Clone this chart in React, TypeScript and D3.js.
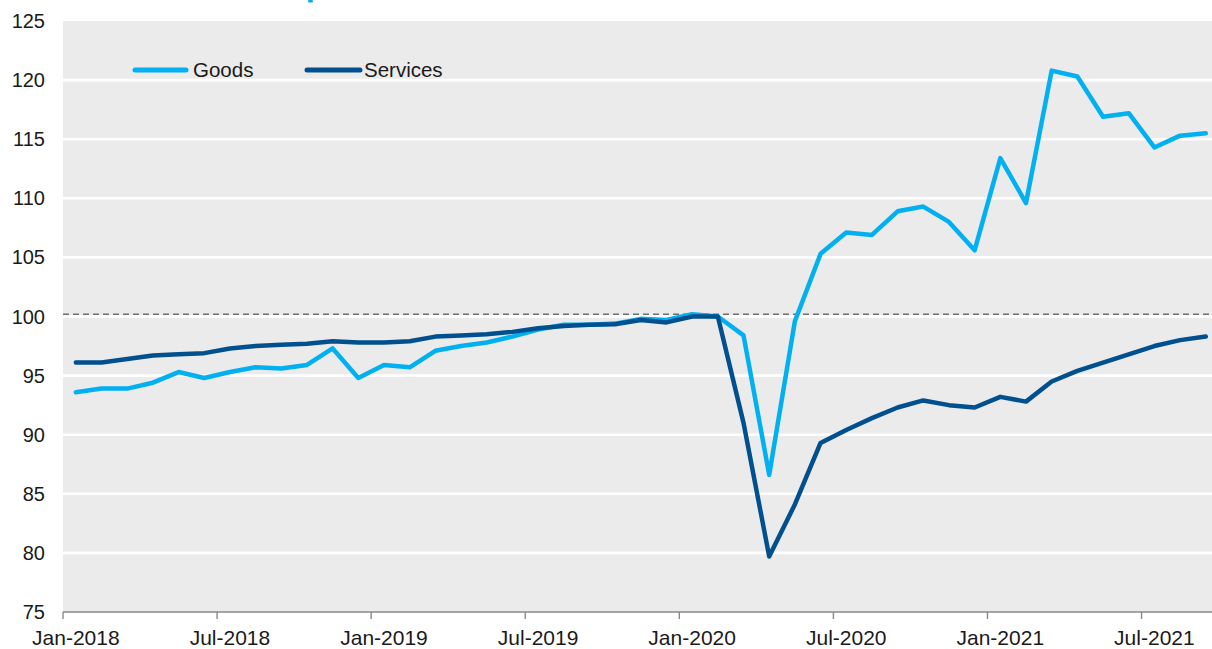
import React from "react";
import * as d3 from "d3";

const months: string[] = [];
{
  const names = ["Jan","Feb","Mar","Apr","May","Jun","Jul","Aug","Sep","Oct","Nov","Dec"];
  for (let y = 2018; y <= 2021; y++) for (let m = 0; m < 12; m++) {
    if (y === 2021 && m > 8) break;
    months.push(`${names[m]}-${y}`);
  }
}

const goods = [
  93.6, 93.9, 93.9, 94.4, 95.3, 94.8, 95.3, 95.7, 95.6, 95.9,
  97.3, 94.8, 95.9, 95.7, 97.1, 97.5, 97.8, 98.3, 98.9, 99.3,
  99.3, 99.4, 99.8, 99.7, 100.2, 100.0, 98.4, 86.6, 99.6, 105.3,
  107.1, 106.9, 108.9, 109.3, 108.0, 105.6, 113.4, 109.6, 120.8, 120.3,
  116.9, 117.2, 114.3, 115.3, 115.5,
];

const services = [
  96.1, 96.1, 96.4, 96.7, 96.8, 96.9, 97.3, 97.5, 97.6, 97.7,
  97.9, 97.8, 97.8, 97.9, 98.3, 98.4, 98.5, 98.7, 99.0, 99.2,
  99.3, 99.35, 99.7, 99.5, 100.0, 100.0, 91.0, 79.7, 84.1, 89.3,
  90.4, 91.4, 92.3, 92.9, 92.5, 92.3, 93.2, 92.8, 94.5, 95.4,
  96.1, 96.8, 97.5, 98.0, 98.3,
];

const yTicks = [75, 80, 85, 90, 95, 100, 105, 110, 115, 120, 125];
const xLabels = ["Jan-2018", "Jul-2018", "Jan-2019", "Jul-2019", "Jan-2020", "Jul-2020", "Jan-2021", "Jul-2021"];
const refLevel = 100.2;

const seriesList = [
  { name: "Goods", values: goods, color: "#00b0f0" },
  { name: "Services", values: services, color: "#00508f" },
];

export default function App() {
  const W = 1212, H = 649;
  const left = 63, top = 21, bottom = 612;
  const step = 25.68;
  const right = left + step * months.length;

  const x = d3.scaleBand<string>().domain(months).range([left, right]).paddingInner(0).paddingOuter(0);
  const y = d3.scaleLinear().domain([75, 125]).range([bottom, top]);
  const cx = (m: string) => (x(m) as number) + x.bandwidth() / 2;

  const line = d3.line<number>()
    .x((_, i) => cx(months[i]))
    .y((v) => y(v));

  const font = "'Liberation Sans', Arial, sans-serif";
  const textColor = "#1a1a1a";

  return (
    <svg width={W} height={H} style={{ position: "absolute", left: 0, top: 0, display: "block" }}>
      <rect x={0} y={0} width={W} height={H} fill="#ffffff" />
      <rect x={left} y={top} width={right - left} height={bottom - top} fill="#ebebeb" />
      {yTicks.filter((t) => t > 75 && t < 125).map((t) => (
        <line key={t} x1={left} x2={right} y1={y(t)} y2={y(t)} stroke="#ffffff" strokeWidth={2.6} />
      ))}
      <line x1={left} x2={right} y1={y(refLevel)} y2={y(refLevel)} stroke="#6f6f6f" strokeWidth={1.5} strokeDasharray="6 4" />
      {seriesList.map((s) => (
        <path key={s.name} d={line(s.values) || ""} fill="none" stroke={s.color} strokeWidth={4.5} strokeLinejoin="round" strokeLinecap="round" />
      ))}
      <line x1={left} x2={right} y1={bottom} y2={bottom} stroke="#898989" strokeWidth={1.6} />
      {months.map((m, i) => (i % 6 === 0 ? (
        <line key={m} x1={x(m) as number} x2={x(m) as number} y1={bottom} y2={bottom + 7} stroke="#898989" strokeWidth={1.4} />
      ) : null))}
      {xLabels.map((lab) => (
        <text key={lab} x={cx(lab)} y={645} textAnchor="middle" fontFamily={font} fontSize={21} fill={textColor}>{lab}</text>
      ))}
      {yTicks.map((t) => (
        <text key={t} x={45} y={y(t) + 7} textAnchor="end" fontFamily={font} fontSize={20} fill={textColor}>{t}</text>
      ))}
      <g>
        <line x1={135} x2={186} y1={70} y2={70} stroke={seriesList[0].color} strokeWidth={5} strokeLinecap="round" />
        <text x={193} y={77} fontFamily={font} fontSize={20.5} fill={textColor}>Goods</text>
        <line x1={307} x2={360} y1={70} y2={70} stroke={seriesList[1].color} strokeWidth={5} strokeLinecap="round" />
        <text x={364} y={77} fontFamily={font} fontSize={20.5} fill={textColor}>Services</text>
      </g>
      <rect x={308} y={0} width={5} height={2.5} rx={1.2} fill="#00b0f0" />
    </svg>
  );
}
